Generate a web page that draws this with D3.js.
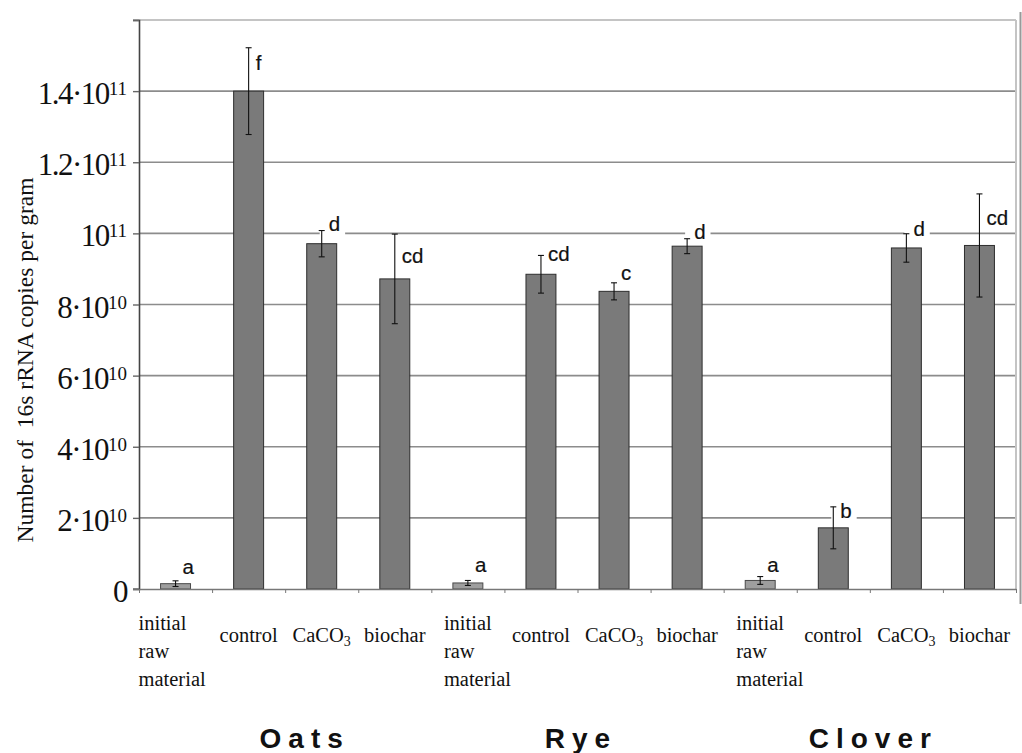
<!DOCTYPE html>
<html><head><meta charset="utf-8">
<script src="https://cdn.jsdelivr.net/npm/d3@7"></script>
<style>body{margin:0;background:#fff}</style></head>
<body><svg id="c" width="1022" height="753"></svg>
<script>
const groups = ["Oats", "Rye", "Clover"];
const treatments = ["initial raw material", "control", "CaCO3", "biochar"];
const oatsMeans = [1.5e9, 1.40e11, 9.71e10, 8.72e10];
const oatsErr = [0.8e9, 1.22e10, 0.37e10, 1.26e10];
const oatsLetters = ["a", "f", "d", "cd"];
const oatsLetterAt = [0.42e10, 14.6e10, 10.06e10, 9.18e10];
const ryeMeans = [1.7e9, 8.85e10, 8.37e10, 9.64e10];
const ryeErr = [0.7e9, 0.53e10, 0.24e10, 0.21e10];
const ryeLetters = ["a", "cd", "c", "d"];
const ryeLetterAt = [0.49e10, 9.22e10, 8.68e10, 9.83e10];
const cloverMeans = [2.4e9, 1.72e10, 9.59e10, 9.66e10];
const cloverErr = [1.1e9, 0.59e10, 0.40e10, 1.45e10];
const cloverLetters = ["a", "b", "d", "cd"];
const cloverLetterAt = [0.48e10, 2.0e10, 9.93e10, 10.24e10];
const yTickValues = [0, 2e10, 4e10, 6e10, 8e10, 1e11, 1.2e11, 1.4e11];
const yTickBase = ["0", "2·10", "4·10", "6·10", "8·10", "10", "1.2·10", "1.4·10"];
const yTickExp = ["", "10", "10", "10", "10", "11", "11", "11"];
const yMax = 1.6e11;
const yTitle = "Number of\u00a0 16s rRNA copies per gram";

const allMeans = [oatsMeans, ryeMeans, cloverMeans];
const allErr = [oatsErr, ryeErr, cloverErr];
const allLetters = [oatsLetters, ryeLetters, cloverLetters];
const allLetterAt = [oatsLetterAt, ryeLetterAt, cloverLetterAt];
const data = [];
groups.forEach((g, gi) => treatments.forEach((t, ti) => data.push({
  key: g + "|" + t, group: g, gi, t, ti,
  v: allMeans[gi][ti], e: allErr[gi][ti], letter: allLetters[gi][ti], la: allLetterAt[gi][ti]
})));

const svg = d3.select("#c");
const L = 139, R = 1016, T = 20, B = 589;
const x = d3.scaleBand().domain(data.map(d => d.key)).range([L, R]).paddingInner(0.59).paddingOuter(0.295);
const y = d3.scaleLinear().domain([0, yMax]).range([B, T]);
const cx = d => x(d.key) + x.bandwidth() / 2;

// gridlines
svg.append("g").selectAll("line").data(yTickValues.filter(v => v > 0)).join("line")
  .attr("x1", L).attr("x2", R).attr("y1", d => y(d)).attr("y2", d => y(d))
  .attr("stroke", "#8c8c8c").attr("stroke-width", 1.6);
// top border and right border
svg.append("line").attr("x1", L - 6).attr("x2", R).attr("y1", y(yMax)).attr("y2", y(yMax)).attr("stroke", "#c4c4c4").attr("stroke-width", 2);
svg.append("line").attr("x1", R).attr("x2", R).attr("y1", y(yMax)).attr("y2", B).attr("stroke", "#c4c4c4").attr("stroke-width", 2);
svg.append("line").attr("x1", 1020.5).attr("x2", 1020.5).attr("y1", 12).attr("y2", 604).attr("stroke", "#9a9a9a").attr("stroke-width", 2);

// bars
svg.append("g").selectAll("rect").data(data).join("rect")
  .attr("x", d => x(d.key)).attr("width", x.bandwidth())
  .attr("y", d => y(d.v)).attr("height", d => B - y(d.v))
  .attr("fill", d => d.ti === 0 ? "#9e9e9e" : "#7a7a7a")
  .attr("stroke", d => d.ti === 0 ? "#4a4a4a" : "#2e2e2e").attr("stroke-width", 1);

// y axis
const yAxis = svg.append("g").attr("transform", `translate(${L},0)`)
  .call(d3.axisLeft(y).tickValues(yTickValues.concat([yMax])).tickSize(6).tickFormat(""));
yAxis.select(".domain").attr("stroke", "#444").attr("stroke-width", 1.6);
yAxis.selectAll(".tick line").attr("stroke", "#666").attr("stroke-width", 1.4);

// x axis
const xb = d3.scaleLinear().domain([0, data.length]).range([L, R]);
const xAxis = svg.append("g").attr("transform", `translate(0,${B})`)
  .call(d3.axisBottom(xb).ticks(data.length).tickSize(4).tickSizeOuter(0).tickFormat(""));
xAxis.select(".domain").attr("stroke", "#777").attr("stroke-width", 1.6);
xAxis.selectAll(".tick line").attr("stroke", "#777");
svg.append("line").attr("x1", L - 6).attr("x2", L).attr("y1", B).attr("y2", B).attr("stroke", "#777").attr("stroke-width", 1.6);

// y tick labels
const tl = svg.append("g").selectAll("text").data(yTickValues).join("text")
  .attr("x", 127).attr("y", d => y(d) + 13)
  .attr("text-anchor", "end")
  .attr("font-family", "'Liberation Serif', 'Times New Roman', serif")
  .attr("font-size", 31).attr("fill", "#111");
tl.each(function (d, i) {
  const t = d3.select(this);
  t.append("tspan").text(yTickBase[i]).attr("letter-spacing", -1.5);
  if (yTickExp[i]) t.append("tspan").text(yTickExp[i]).attr("font-size", 19).attr("dy", -9);
});

// y title
svg.append("text").attr("transform", `translate(33,360) rotate(-90)`)
  .attr("text-anchor", "middle")
  .attr("font-family", "'Liberation Serif', 'Times New Roman', serif")
  .attr("font-size", 23.5).attr("fill", "#111").text(yTitle);

// letter boxes (below error bars), letters (above)
const boxG = svg.append("g");
const eg = svg.append("g").attr("stroke", "#111").attr("stroke-width", 1.1);
const txtG = svg.append("g");
data.forEach(d => {
  const t = txtG.append("text").attr("x", cx(d) + 7).attr("y", y(d.la))
    .attr("font-family", "'Liberation Sans', Arial, sans-serif").attr("font-size", 20.5)
    .attr("fill", "#111").attr("stroke", "#111").attr("stroke-width", 0.2).text(d.letter);
  const bb = t.node().getBBox();
  boxG.append("rect").attr("x", bb.x - 9).attr("y", bb.y + 2).attr("width", bb.width + 14)
    .attr("height", bb.height - 2).attr("fill", "#fff");
});

// error bars
data.forEach(d => {
  eg.append("line").attr("x1", cx(d)).attr("x2", cx(d)).attr("y1", y(d.v + d.e)).attr("y2", y(Math.max(0, d.v - d.e)));
  [d.v + d.e, Math.max(0, d.v - d.e)].forEach(v => eg.append("line")
    .attr("x1", cx(d) - 3).attr("x2", cx(d) + 3).attr("y1", y(v)).attr("y2", y(v)));
});

// category labels
const cl = svg.append("g").attr("font-family", "'Liberation Serif', 'Times New Roman', serif")
  .attr("font-size", 20.5).attr("fill", "#111");
data.forEach(d => {
  const off = d.gi === 0 ? -37 : -24;
  if (d.ti === 0) {
    const t = cl.append("text").attr("x", cx(d) + off).attr("y", 630);
    d.t.split(" ").forEach((w, i) => t.append("tspan").attr("x", cx(d) + off).attr("dy", i ? 28 : 0).text(w));
  } else if (d.t === "CaCO3") {
    const t = cl.append("text").attr("x", cx(d)).attr("y", 642).attr("text-anchor", "middle");
    t.append("tspan").text("CaCO");
    t.append("tspan").text("3").attr("font-size", 14).attr("dy", 4);
  } else {
    cl.append("text").attr("x", cx(d)).attr("y", 642).attr("text-anchor", "middle").text(d.t);
  }
});

// group labels
groups.forEach((g, gi) => {
  const keys = data.filter(d => d.gi === gi);
  const gx = (x(keys[0].key) + x(keys[keys.length - 1].key) + x.bandwidth()) / 2;
  svg.append("text").attr("x", gx + 3.5 + (gi === 0 ? 16 : 0)).attr("y", 748).attr("text-anchor", "middle")
    .attr("font-family", "'Liberation Sans', Arial, sans-serif").attr("font-weight", "bold")
    .attr("font-size", 28).attr("letter-spacing", 7).attr("fill", "#111").text(g);
});
</script></body></html>
